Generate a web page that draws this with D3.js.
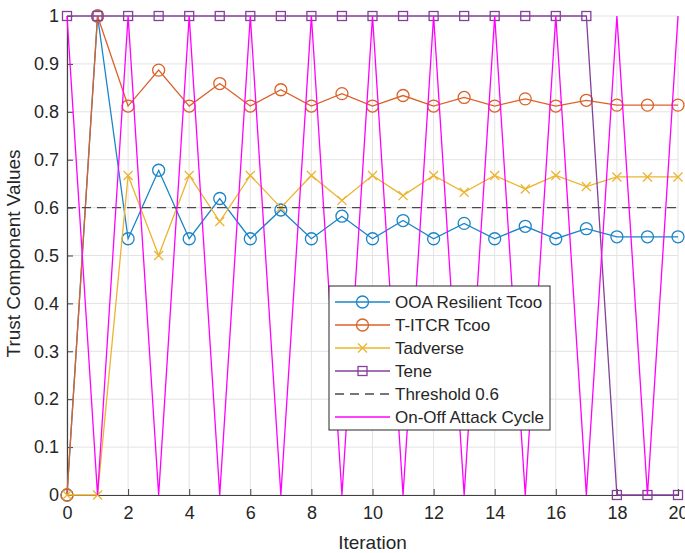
<!DOCTYPE html>
<html>
<head>
<meta charset="utf-8">
<script src="https://cdn.jsdelivr.net/npm/d3@7"></script>
<style>
  body { margin: 0; background: #fff; }
  text { font-family: "Liberation Sans", Arial, sans-serif; fill: #262626; }
</style>
</head>
<body>
<svg id="drawing_region"></svg>
<script>
const iterations = d3.range(0, 21);
const ooaResilient = [0, 1, 0.535, 0.678, 0.535, 0.619, 0.535, 0.595, 0.535, 0.582, 0.535, 0.573, 0.535, 0.567, 0.535, 0.561, 0.535, 0.556, 0.539, 0.539, 0.539];
const titcr = [0, 1, 0.812, 0.887, 0.812, 0.859, 0.812, 0.846, 0.812, 0.838, 0.812, 0.834, 0.812, 0.830, 0.812, 0.827, 0.812, 0.824, 0.814, 0.814, 0.814];
const tadverse = [0, 0, 0.667, 0.5, 0.667, 0.571, 0.667, 0.6, 0.667, 0.615, 0.667, 0.625, 0.667, 0.632, 0.667, 0.639, 0.667, 0.644, 0.664, 0.664, 0.664];
const tene = [1, 1, 1, 1, 1, 1, 1, 1, 1, 1, 1, 1, 1, 1, 1, 1, 1, 1, 0, 0, 0];
const onOff = [1, 0, 1, 0, 1, 0, 1, 0, 1, 0, 1, 0, 1, 0, 1, 0, 1, 0, 1, 0, 1];
const threshold = 0.6;
const xTicks = [0, 2, 4, 6, 8, 10, 12, 14, 16, 18, 20];
const yTicks = [0, 0.1, 0.2, 0.3, 0.4, 0.5, 0.6, 0.7, 0.8, 0.9, 1];

const series = [
    { name: "OOA Resilient Tcoo", values: ooaResilient, color: "#1a84c8", marker: "circle" },
    { name: "T-ITCR Tcoo", values: titcr, color: "#dc6128", marker: "circle" },
    { name: "Tadverse", values: tadverse, color: "#ecb430", marker: "cross" },
    { name: "Tene", values: tene, color: "#84409a", marker: "square" },
    { name: "Threshold 0.6", values: iterations.map(() => threshold), color: "#4a4a4a", marker: "none", dash: "9,6" },
    { name: "On-Off Attack Cycle", values: onOff, color: "#ff00ff", marker: "none" }
];

const width = 685, height = 553;
const margin = { top: 16, right: 7, bottom: 58, left: 67 };
const inner_width = width - margin.left - margin.right;
const inner_height = height - margin.top - margin.bottom;

const svg = d3.select("#drawing_region")
    .attr("width", width)
    .attr("height", height);

const chart = svg.append("g")
    .attr("transform", `translate(${margin.left}, ${margin.top})`);

const xscale = d3.scaleLinear().domain([0, 20]).range([0, inner_width]);
const yscale = d3.scaleLinear().domain([0, 1]).range([inner_height, 0]);

// grid
chart.append("g").selectAll("line")
    .data(xTicks).join("line")
    .attr("x1", d => xscale(d)).attr("x2", d => xscale(d))
    .attr("y1", 0).attr("y2", inner_height)
    .attr("stroke", "#e3e3e3").attr("stroke-width", 1);
chart.append("g").selectAll("line")
    .data(yTicks).join("line")
    .attr("x1", 0).attr("x2", inner_width)
    .attr("y1", d => yscale(d)).attr("y2", d => yscale(d))
    .attr("stroke", "#e3e3e3").attr("stroke-width", 1);

// axes
const xaxis = d3.axisBottom(xscale).tickValues(xTicks).tickSize(-6).tickPadding(11).tickFormat(d3.format("d"));
const yaxis = d3.axisLeft(yscale).tickValues(yTicks).tickSize(-6).tickPadding(8).tickFormat(d => d === 0 || d === 1 ? d : d3.format(".1f")(d));

const xaxis_group = chart.append("g")
    .attr("transform", `translate(0, ${inner_height})`)
    .call(xaxis);
const yaxis_group = chart.append("g").call(yaxis);

[xaxis_group, yaxis_group].forEach(g => {
    g.select(".domain").attr("stroke", "#404040").attr("stroke-width", 1.2);
    g.selectAll(".tick line").attr("stroke", "#404040");
    g.selectAll(".tick text").attr("font-size", "18px").attr("fill", "#262626")
        .attr("font-family", "'Liberation Sans', Arial, sans-serif");
});

chart.append("text")
    .attr("x", inner_width / 2).attr("y", inner_height + 54)
    .attr("text-anchor", "middle").attr("font-size", "19px")
    .text("Iteration");

chart.append("text")
    .attr("transform", "rotate(-90)")
    .attr("x", -inner_height / 2 + 2).attr("y", -47)
    .attr("text-anchor", "middle").attr("font-size", "19px")
    .text("Trust Component Values");

// series
const line = d3.line().x((d, i) => xscale(iterations[i])).y(d => yscale(d));

function drawMarker(g, type, color, x, y) {
    if (type === "circle") {
        g.append("circle").attr("cx", x).attr("cy", y).attr("r", 6)
            .attr("fill", "none").attr("stroke", color).attr("stroke-width", 1.3);
    } else if (type === "square") {
        g.append("rect").attr("x", x - 4.5).attr("y", y - 4.5).attr("width", 9).attr("height", 9)
            .attr("fill", "none").attr("stroke", color).attr("stroke-width", 1.3);
    } else if (type === "cross") {
        g.append("path").attr("d", `M${x - 4.5},${y - 4.5}L${x + 4.5},${y + 4.5}M${x - 4.5},${y + 4.5}L${x + 4.5},${y - 4.5}`)
            .attr("stroke", color).attr("stroke-width", 1.3);
    }
}

series.forEach(s => {
    const g = chart.append("g");
    g.append("path")
        .attr("d", line(s.values))
        .attr("fill", "none")
        .attr("stroke", s.color)
        .attr("stroke-width", 1.3)
        .attr("stroke-dasharray", s.dash || null);
    if (s.marker !== "none") {
        s.values.forEach((v, i) => drawMarker(g, s.marker, s.color, xscale(iterations[i]), yscale(v)));
    }
});

// legend
const legend = svg.append("g").attr("transform", "translate(329, 286)");
legend.append("rect")
    .attr("width", 221).attr("height", 144)
    .attr("fill", "#fff").attr("stroke", "#262626").attr("stroke-width", 1);

series.forEach((s, i) => {
    const y = 16 + i * 23;
    legend.append("line")
        .attr("x1", 6).attr("x2", 61).attr("y1", y).attr("y2", y)
        .attr("stroke", s.color).attr("stroke-width", 1.3)
        .attr("stroke-dasharray", s.dash || null);
    drawMarker(legend, s.marker, s.color, 33.5, y);
    legend.append("text")
        .attr("x", 66).attr("y", y + 6)
        .attr("font-size", "17px")
        .text(s.name);
});
</script>
</body>
</html>
